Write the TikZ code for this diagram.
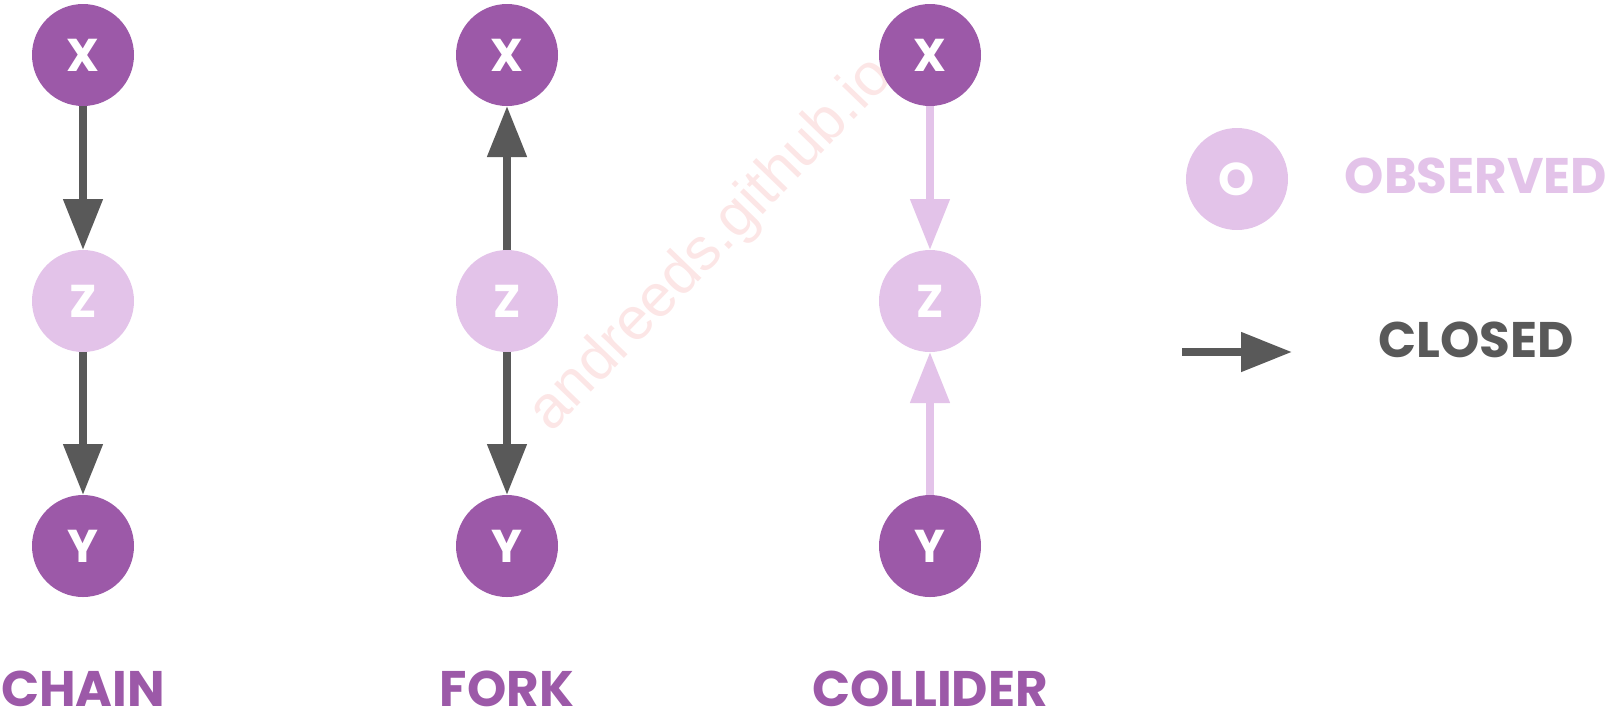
\documentclass[tikz,border=0pt]{standalone}
\usepackage{fontspec}
\setmainfont{Poppins}
\newfontfamily\wmfont{Liberation Sans}
\usetikzlibrary{arrows.meta}
\definecolor{darkpurple}{HTML}{9C59A8}
\definecolor{lightpurple}{HTML}{E3C3E9}
\definecolor{arrowgray}{HTML}{595959}
\definecolor{wmpink}{HTML}{FCE6E6}

\begin{document}
\begin{tikzpicture}[x=0.5pt,y=-0.5pt,
  var/.style={circle, fill=darkpurple, minimum size=51pt, inner sep=0pt, outer sep=0pt,
    text=white, font=\bfseries\fontsize{23}{23}\selectfont},
  obs/.style={var, fill=lightpurple},
  link/.style={line width=4pt, draw=arrowgray, -{Triangle[width=19pt,length=25.5pt]}},
  openlink/.style={link, draw=lightpurple},
  title/.style={anchor=base, inner sep=0pt, text=darkpurple, font=\bfseries\fontsize{25}{25}\selectfont}
]
\useasboundingbox (0,0) rectangle (1624,714);

% watermark
\node[rotate=46, text=wmpink, font=\wmfont\fontsize{30}{30}\selectfont] (wm) at (712,245) {andreeds.github.io};

% chain
\node[var] (cx) at (83,55) {X};
\node[obs] (cz) at (83,301) {Z};
\node[var] (cy) at (83,546) {Y};
\draw[link] (cx) -- (cz);
\draw[link] (cz) -- (cy);
\node[title] (chain) at (83,706) {CHAIN};

% fork
\node[var] (fx) at (507,55) {X};
\node[obs] (fz) at (507,301) {Z};
\node[var] (fy) at (507,546) {Y};
\draw[link] (fz) -- (fx);
\draw[link] (fz) -- (fy);
\node[title] (fork) at (507,706) {FORK};

% collider
\node[var] (kx) at (930,55) {X};
\node[obs] (kz) at (930,301) {Z};
\node[var] (ky) at (930,546) {Y};
\draw[openlink] (kx) -- (kz);
\draw[openlink] (ky) -- (kz);
\node[title] (collider) at (930,706) {COLLIDER};

% legend
\node[obs] (lo) at (1237,179) {O};
\node[title, text=lightpurple] (observed) at (1476,193) {OBSERVED};
\coordinate (la) at (1182,352);
\coordinate (lb) at (1292,352);
\draw[link] (la) -- (lb);
\node[title, text=arrowgray] (closed) at (1476,357) {CLOSED};
\end{tikzpicture}
\end{document}
